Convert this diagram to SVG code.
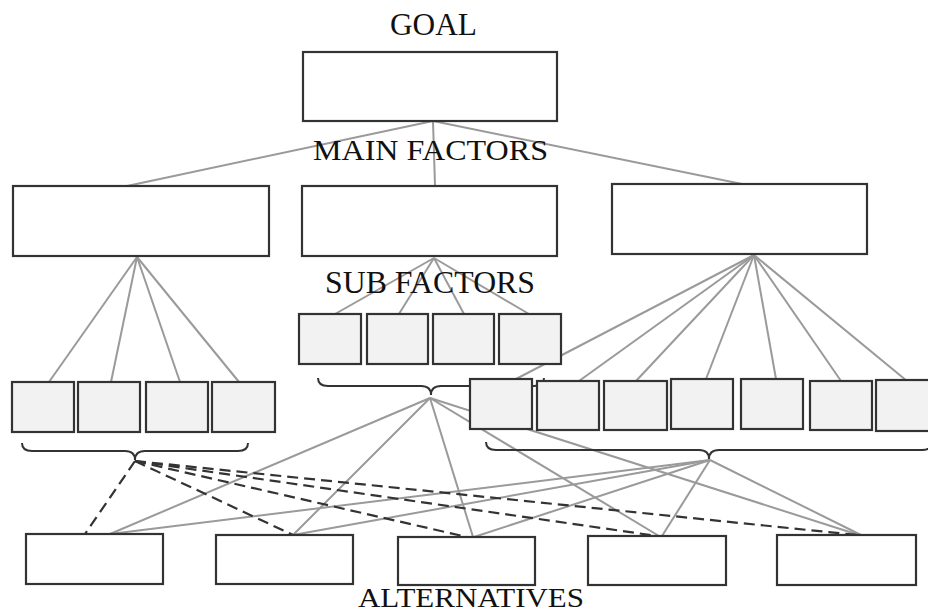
<svg xmlns="http://www.w3.org/2000/svg" width="928" height="614" viewBox="0 0 928 614">
<style>
.box{fill:#fff;stroke:#333;stroke-width:2.2}
.sub{fill:#f2f2f2;stroke:#333;stroke-width:2.2}
.ln{stroke:#9a9a9a;stroke-width:2;fill:none}
.dash{stroke:#333;stroke-width:2.2;stroke-dasharray:11 6;fill:none}
.brace{stroke:#333;stroke-width:2;fill:none}
.lbl{font-family:"Liberation Serif","Times New Roman",serif;fill:#111}
</style>
<rect width="928" height="614" fill="#fff"/>
<g id="connectors">
<g class="ln">
<line x1="433" y1="121" x2="127" y2="186"/>
<line x1="433" y1="121" x2="435" y2="186"/>
<line x1="433" y1="121" x2="742" y2="184"/>
<line x1="137" y1="257" x2="49" y2="382"/>
<line x1="137" y1="257" x2="111" y2="382"/>
<line x1="137" y1="257" x2="180" y2="382"/>
<line x1="137" y1="257" x2="239" y2="382"/>
<line x1="434" y1="258" x2="335" y2="314"/>
<line x1="434" y1="258" x2="397" y2="317"/>
<line x1="434" y1="258" x2="464" y2="314"/>
<line x1="434" y1="258" x2="529" y2="314"/>
<line x1="754" y1="255" x2="516" y2="379"/>
<line x1="754" y1="255" x2="579" y2="381"/>
<line x1="754" y1="255" x2="636" y2="381"/>
<line x1="754" y1="255" x2="706" y2="379"/>
<line x1="754" y1="255" x2="776" y2="379"/>
<line x1="754" y1="255" x2="841" y2="381"/>
<line x1="754" y1="255" x2="907" y2="381"/>
<line x1="430" y1="398" x2="110" y2="534"/>
<line x1="430" y1="398" x2="293" y2="535"/>
<line x1="430" y1="398" x2="473" y2="537"/>
<line x1="430" y1="398" x2="659" y2="536"/>
<line x1="430" y1="398" x2="859" y2="535"/>
<line x1="710" y1="460" x2="110" y2="534"/>
<line x1="710" y1="460" x2="293" y2="535"/>
<line x1="710" y1="460" x2="474" y2="537"/>
<line x1="710" y1="460" x2="662" y2="536"/>
<line x1="710" y1="460" x2="861" y2="535"/>
</g>
<g class="dash">
<line x1="135" y1="461" x2="85" y2="534"/>
<line x1="135" y1="461" x2="293" y2="535"/>
<line x1="135" y1="461" x2="467" y2="537"/>
<line x1="135" y1="461" x2="657" y2="536"/>
<line x1="135" y1="461" x2="857" y2="535"/>
</g>
<g class="brace">
<path d="M22,443 Q22,451 32,451 L125,451 Q135,451 135,460 Q135,451 145,451 L238,451 Q248,451 248,443"/>
<path d="M318,378 Q318,386 328,386 L421,386 Q431,386 431,395 Q431,386 441,386 L534,386 Q544,386 544,378"/>
<path d="M486,442 Q486,450 496,450 L699,450 Q709,450 709,459 Q709,450 719,450 L922,450 Q932,450 932,442"/>
</g>
</g>
<g id="goal"><rect class="box" x="303" y="52" width="254" height="69"/></g>
<g id="main1"><rect class="box" x="13" y="186" width="256" height="70"/></g>
<g id="main2"><rect class="box" x="302" y="186" width="255" height="70"/></g>
<g id="main3"><rect class="box" x="612" y="184" width="255" height="70"/></g>
<g id="subL1"><rect class="sub" x="12" y="382" width="62" height="50"/></g>
<g id="subL2"><rect class="sub" x="78" y="382" width="62" height="50"/></g>
<g id="subL3"><rect class="sub" x="146" y="382" width="62" height="50"/></g>
<g id="subL4"><rect class="sub" x="212" y="382" width="63" height="50"/></g>
<g id="subM1"><rect class="sub" x="299" y="314" width="62" height="50"/></g>
<g id="subM2"><rect class="sub" x="367" y="314" width="61" height="50"/></g>
<g id="subM3"><rect class="sub" x="433" y="314" width="61" height="50"/></g>
<g id="subM4"><rect class="sub" x="499" y="314" width="62" height="50"/></g>
<g id="subR1"><rect class="sub" x="470" y="379" width="62" height="50"/></g>
<g id="subR2"><rect class="sub" x="537" y="381" width="62" height="49"/></g>
<g id="subR3"><rect class="sub" x="604" y="381" width="63" height="49"/></g>
<g id="subR4"><rect class="sub" x="671" y="379" width="62" height="50"/></g>
<g id="subR5"><rect class="sub" x="741" y="379" width="62" height="50"/></g>
<g id="subR6"><rect class="sub" x="810" y="381" width="62" height="49"/></g>
<g id="subR7"><rect class="sub" x="876" y="380" width="62" height="51"/></g>
<g id="alt1"><rect class="box" x="26" y="534" width="137" height="50"/></g>
<g id="alt2"><rect class="box" x="216" y="535" width="137" height="49"/></g>
<g id="alt3"><rect class="box" x="398" y="537" width="137" height="48"/></g>
<g id="alt4"><rect class="box" x="588" y="536" width="138" height="49"/></g>
<g id="alt5"><rect class="box" x="777" y="535" width="139" height="50"/></g>
<g id="labels" class="lbl">
<text x="390" y="35" font-size="31" textLength="87" lengthAdjust="spacingAndGlyphs">GOAL</text>
<text x="313" y="160" font-size="30" textLength="235" lengthAdjust="spacingAndGlyphs">MAIN FACTORS</text>
<text x="325" y="293" font-size="31" textLength="210" lengthAdjust="spacingAndGlyphs">SUB FACTORS</text>
<text x="358" y="607" font-size="27" textLength="226" lengthAdjust="spacingAndGlyphs">ALTERNATIVES</text>
</g>
</svg>
